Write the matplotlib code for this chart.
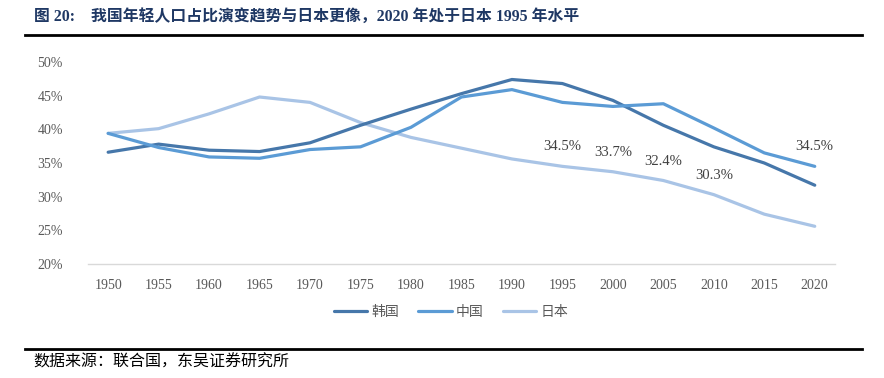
import matplotlib
matplotlib.use("Agg")
import matplotlib.pyplot as plt
from matplotlib.lines import Line2D

plt.rcParams['font.family'] = ['Liberation Serif', 'Noto Sans CJK SC', 'DejaVu Sans']

# 数据：青年人口占比（%）
years = [1950, 1955, 1960, 1965, 1970, 1975, 1980, 1985, 1990, 1995, 2000, 2005, 2010, 2015, 2020]
korea = [36.6, 37.8, 36.9, 36.7, 38.0, 40.6, 43.0, 45.3, 47.4, 46.8, 44.3, 40.6, 37.4, 35.0, 31.7]
china = [39.4, 37.3, 35.9, 35.7, 37.0, 37.4, 40.3, 44.8, 45.9, 44.0, 43.4, 43.8, 40.2, 36.5, 34.5]
japan = [39.4, 40.1, 42.3, 44.8, 44.0, 41.0, 38.8, 37.2, 35.6, 34.5, 33.7, 32.4, 30.3, 27.4, 25.6]
series_names = ['韩国', '中国', '日本']
yticks = [20, 25, 30, 35, 40, 45, 50]

# 标注点
japan_label_years = [1995, 2000, 2005, 2010]
china_label_years = [2020]

c_korea = '#4677AA'
c_china = '#5B9BD5'
c_japan = '#A9C4E6'
navy = '#1F3864'

fig = plt.figure(figsize=(8.84, 3.78), dpi=100)
ax = fig.add_axes([0.0995, 0.3016, 0.845, 0.5344])

lw = 2.3
ax.plot(years, korea, color=c_korea, lw=lw, solid_capstyle='round', zorder=3)
ax.plot(years, china, color=c_china, lw=lw, solid_capstyle='round', zorder=3)
ax.plot(years, japan, color=c_japan, lw=lw, solid_capstyle='round', zorder=2)

for yr in japan_label_years:
    v = japan[years.index(yr)]
    ax.annotate(f'{v:.1f}%', (yr, v), xytext=(0, 14), textcoords='offset points',
                ha='center', va='center', fontsize=10.5, color='#404040')
for yr in china_label_years:
    v = china[years.index(yr)]
    ax.annotate(f'{v:.1f}%', (yr, v), xytext=(0, 14), textcoords='offset points',
                ha='center', va='center', fontsize=10.5, color='#404040')

ax.set_xlim(1948.0, 2022.0)
ax.set_ylim(20, 50)
ax.set_xticks(years)
ax.set_xticklabels([str(y) for y in years])
ax.set_yticks(yticks)
ax.set_yticklabels([f'{t}%' for t in yticks])
ax.tick_params(axis='both', length=0, labelsize=10, labelcolor='#595959')
ax.tick_params(axis='x', pad=11)
ax.tick_params(axis='y', pad=18)
for s in ['top', 'right', 'left']:
    ax.spines[s].set_visible(False)
ax.spines['bottom'].set_color('#D9D9D9')
ax.spines['bottom'].set_linewidth(1.0)

handles = [Line2D([0], [0], color=c, lw=lw, solid_capstyle='round') for c in (c_korea, c_china, c_japan)]
fig.legend(handles, series_names, loc='center', bbox_to_anchor=(0.51, 0.173), ncol=3,
           frameon=False, fontsize=10, handlelength=2.4, handletextpad=0.3, columnspacing=1.4,
           labelcolor='#595959')

# 标题与来源
fig.text(0.038, 0.955, '图 20:    我国年轻人口占比演变趋势与日本更像，2020 年处于日本 1995 年水平',
         fontsize=11.4, fontweight='bold', color=navy, va='center', ha='left')
fig.add_artist(Line2D([0.028, 0.975], [0.907, 0.907], color='#000000', lw=2.0))
fig.add_artist(Line2D([0.028, 0.975], [0.077, 0.077], color='#000000', lw=2.0))
fig.text(0.038, 0.042, '数据来源：联合国，东吴证券研究所', fontsize=11.5, color='#000000',
         va='center', ha='left')

fig.savefig('out.png', dpi=100)
